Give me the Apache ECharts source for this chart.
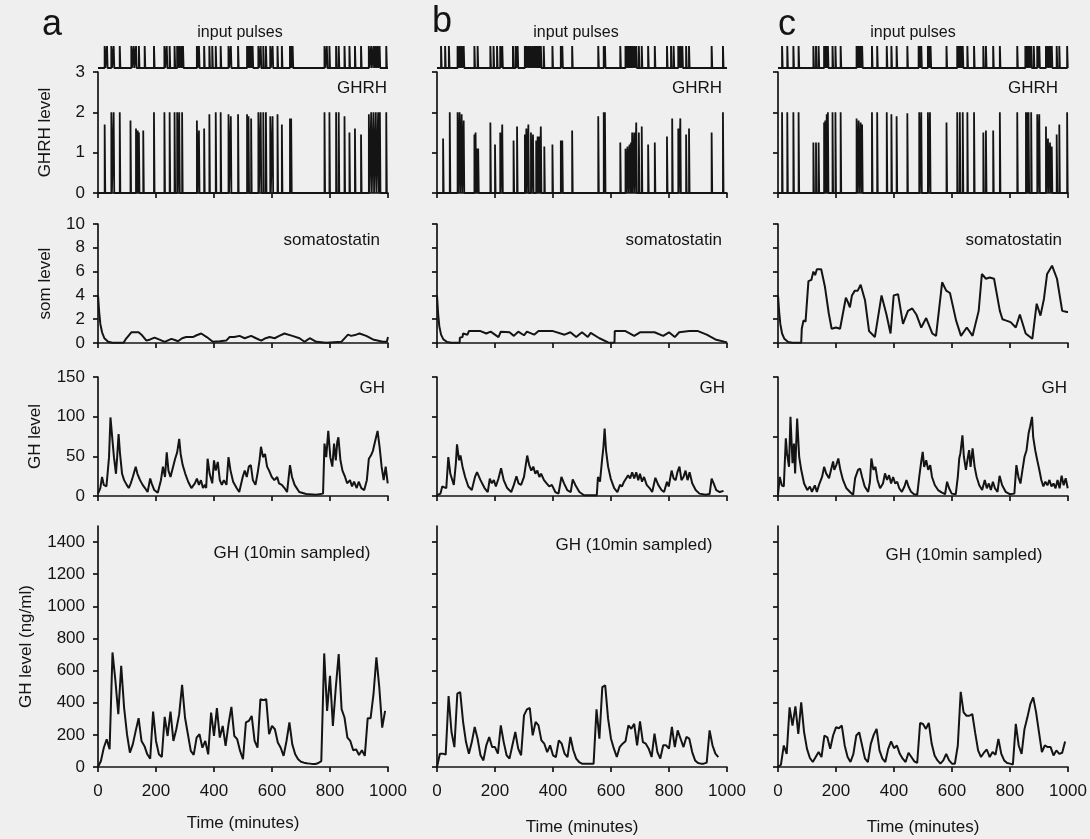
<!DOCTYPE html>
<html><head><meta charset="utf-8">
<script src="https://cdn.jsdelivr.net/npm/echarts@6/dist/echarts.min.js"></script>
<style>html,body{margin:0;padding:0;background:#efefef}#chart{width:1090px;height:839px}</style>
</head><body><div id="chart"></div><script>
// ---------- DATA ----------
const xTicks = [0, 200, 400, 600, 800, 1000];
const sampledTicks = [0, 200, 400, 600, 800, 1000, 1200, 1400];
const sampleStep = 10; // minutes between GH samples

// Column a
const pulseTimesA = [23,31,46,54,75,115,123,131,141,161,193,229,237,247,264,273,280,287,293,341,348,366,384,394,406,423,450,458,483,514,519,523,528,533,553,561,570,579,594,602,619,634,662,666,671,781,789,798,821,830,850,867,886,907,934,942,950,957,964,971,994];
const ghrhTimesA = [23,46,54,75,112,131,137,141,156,193,229,247,264,273,280,290,341,348,366,384,406,423,450,458,483,514,519,528,553,561,570,579,594,602,619,634,662,666,781,798,821,830,850,867,886,907,934,942,950,958,966,972,994];
const ghrhLevelsA = [1.7,2,2,2,1.8,1.6,1.55,1.5,1.55,2,2,2,2,2,2,2,1.8,1.55,1.6,1.95,2,2,1.95,1.9,1.95,1.95,1.9,1.85,2,2,2,2,1.9,1.9,1.95,1.7,1.85,1.85,2,2,2,2,1.9,1.5,1.6,1.45,1.95,2,2,2,2,2,2];
const somA = [[0,4],[4,2.6],[8,1.6],[14,0.9],[22,0.4],[35,0.1],[50,0.02],[88,0.02],[95,0.3],[105,0.6],[115,0.9],[140,0.9],[150,0.7],[167,0.2],[180,0.3],[195,0.45],[210,0.3],[230,0.1],[253,0.35],[265,0.25],[276,0.15],[290,0.4],[304,0.5],[327,0.5],[340,0.65],[356,0.8],[375,0.5],[396,0.1],[420,0.15],[442,0.2],[454,0.5],[470,0.5],[488,0.6],[506,0.4],[528,0.6],[545,0.4],[563,0.2],[578,0.4],[592,0.5],[609,0.4],[625,0.6],[643,0.8],[670,0.6],[695,0.4],[712,0.1],[730,0.4],[753,0.1],[787,0.02],[839,0.1],[862,0.7],[873,0.6],[890,0.7],[902,0.8],[925,0.6],[948,0.3],[982,0.1],[996,0.1],[1000,0.5]];
const ghA = [[0,3],[8,10],[14,24],[20,14],[29,12],[34,32],[38,49],[43,99],[49,74],[55,49],[62,28],[66,49],[71,78],[76,53],[83,28],[90,20],[99,14],[106,10],[113,16],[120,24],[130,37],[136,28],[145,20],[154,14],[162,10],[171,5],[180,22],[185,16],[194,7.5],[206,4],[217,20],[224,37],[231,24],[237,55],[243,32],[250,24],[259,37],[266,47],[273,55],[280,72],[285,53],[292,39],[301,28],[311,18],[322,10],[334,16],[341,22],[348,14],[355,20],[362,10],[369,14],[373,10],[378,47],[385,28],[394,16],[400,45],[406,32],[413,43],[420,20],[427,14],[434,20],[443,14],[450,49],[457,32],[466,18],[478,10],[487,5],[499,24],[506,32],[513,24],[520,37],[527,39],[534,20],[543,14],[550,28],[557,45],[562,62],[569,49],[576,53],[583,37],[590,32],[599,24],[608,20],[618,24],[624,16],[634,14],[643,10],[652,5],[662,39],[669,24],[678,14],[694,5],[718,2.5],[752,1.5],[776,3],[781,66],[787,49],[794,82],[801,49],[808,37],[814,66],[820,45],[825,68],[829,74],[836,45],[843,32],[852,24],[859,16],[869,20],[876,12],[883,18],[892,10],[899,18],[908,10],[918,7.5],[927,20],[934,47],[941,51],[948,57],[955,68],[964,82],[971,62],[978,37],[985,20],[992,37],[999,16]];
const ghSampledA = [0,37,120,173,110,713,537,329,630,370,204,89,141,225,304,162,131,79,52,345,162,79,62,312,193,345,162,235,329,512,308,204,100,75,183,204,120,162,79,339,193,366,183,256,131,266,374,193,173,100,48,277,287,318,162,120,422,416,422,204,256,235,152,120,69,162,277,141,79,48,33,27,23,21,19,19,25,37,707,349,568,256,495,703,360,308,183,162,104,110,75,104,69,304,304,453,682,495,245,349];

// Column b
const pulseTimesB = [14,28,41,71,78,85,92,129,140,184,195,207,218,225,262,271,278,303,308,315,322,329,336,342,347,352,358,368,398,427,432,466,556,575,579,632,650,655,660,664,669,673,680,687,696,706,728,751,793,807,816,832,839,846,859,869,947,986];
const ghrhTimesB = [21,44,71,78,85,92,129,133,138,142,184,200,218,225,264,276,303,308,315,324,331,342,347,352,358,370,398,427,432,466,556,575,579,632,650,657,664,669,673,680,687,696,706,728,751,793,811,832,839,859,869,947,986];
const ghrhLevelsB = [1.35,2,2,2,1.95,1.8,1.45,1.5,1.1,1.1,1.75,1.2,1.5,1.7,1.3,1.65,1.45,1.6,1.7,1.5,1.45,1.3,1.4,1.4,1.65,1.15,1.2,1.3,1.3,1.55,1.9,2,2,1.25,1.1,1.15,1.2,1.25,1.5,1.5,1.75,1.5,1.65,1.2,1.25,1.4,1.85,1.6,1.85,1.45,1.6,1.5,2];
const somB = [[0,4],[4,2.4],[8,1.4],[14,0.7],[22,0.3],[35,0.08],[50,0.02],[78,0.02],[79,0.45],[88,0.5],[90,0.8],[105,0.7],[110,1.0],[150,1.0],[170,0.8],[185,0.95],[212,0.5],[220,0.95],[250,0.9],[265,0.6],[280,0.95],[300,0.65],[310,0.95],[335,0.7],[350,1.0],[400,1.0],[440,0.7],[460,0.9],[480,0.5],[500,0.9],[520,0.5],[530,0.85],[560,0.4],[590,0.05],[605,0.02],[612,0.05],[613,1.0],[650,1.0],[680,0.6],[700,0.9],[750,0.9],[780,0.6],[800,0.9],[820,0.5],[835,0.9],[870,1.0],[900,1.0],[930,0.7],[960,0.3],[1000,0.05]];
const ghB = [[0,1],[12,3],[18,12],[32,10],[39,49],[46,28],[58,14],[65,41],[69,65],[76,45],[81,51],[88,37],[97,24],[108,12],[120,7.5],[131,24],[138,30],[150,20],[164,10],[175,5],[182,22],[189,16],[196,20],[203,12],[212,22],[221,35],[230,20],[242,10],[256,5],[265,14],[274,25],[281,16],[290,14],[300,24],[311,51],[318,39],[325,32],[332,37],[339,28],[346,32],[353,24],[359,28],[369,20],[378,16],[387,12],[396,14],[408,5],[419,3],[429,24],[438,16],[449,7.5],[461,5],[468,21],[477,14],[491,5],[507,1],[530,1],[551,1],[555,24],[562,18],[569,45],[574,62],[578,85],[583,57],[590,37],[599,22],[611,10],[622,5],[631,14],[638,12],[645,18],[652,22],[659,26],[666,22],[673,30],[680,22],[687,30],[694,20],[700,28],[707,18],[714,24],[723,14],[733,10],[742,5],[753,23],[763,14],[774,7.5],[783,5],[793,18],[799,12],[809,32],[816,22],[823,20],[829,30],[836,37],[843,20],[850,24],[857,32],[864,20],[871,30],[880,16],[892,7.5],[905,3],[926,1.5],[940,2.5],[947,22],[954,16],[963,7.5],[975,5],[988,6.5]];
const ghSampledB = [0,83,83,77,441,218,124,456,466,280,155,83,155,249,176,73,41,135,187,124,124,83,259,155,73,52,135,218,114,73,321,359,367,197,280,259,166,145,93,135,73,62,166,145,83,62,187,104,52,31,21,21,21,21,21,359,176,497,508,301,176,114,62,124,145,160,259,238,269,135,284,155,145,114,62,207,93,52,135,135,114,249,124,228,176,124,187,176,93,41,25,21,21,27,228,135,83,62];

// Column c
const pulseTimesC = [14,32,53,71,122,131,140,159,163,168,172,188,198,216,271,276,280,285,290,324,342,375,391,409,446,485,489,494,517,522,526,581,618,623,627,632,637,653,676,708,717,742,765,825,853,857,862,866,873,882,894,901,924,931,938,944,961,970,997];
const ghrhTimesC = [14,32,53,71,122,131,140,159,163,168,172,188,198,216,271,278,285,290,324,342,375,391,409,446,487,494,517,524,581,618,627,637,653,676,708,717,742,765,825,855,859,864,873,894,901,924,931,938,944,961,970,997];
const ghrhLevelsC = [2,2,2,2,1.25,1.25,1.25,1.75,1.8,1.95,2,2,2,2,1.85,1.8,1.75,1.7,2,2,2,1.95,1.9,1.98,2,2,2,2,1.75,2,2,2,2,2,1.5,1.55,1.55,2,2,2,2,2,2,1.95,1.95,1.65,1.35,1.25,1.15,1.45,1.7,2];
const somC = [[0,4],[4,2.6],[8,1.6],[14,0.8],[22,0.35],[35,0.08],[50,0.02],[80,0.02],[82,1.2],[88,1.9],[95,1.8],[100,3.5],[105,5.2],[115,5.3],[122,6.0],[128,5.7],[134,6.2],[149,6.2],[162,4.7],[175,2.5],[185,1.2],[200,1.3],[214,1.2],[234,3.8],[240,3.5],[248,3.0],[255,4.0],[265,4.4],[275,4.4],[285,4.9],[300,3.6],[314,1.0],[334,0.5],[357,4.0],[374,2.4],[388,0.8],[399,4.0],[414,4.1],[431,1.6],[448,2.7],[463,2.9],[477,2.4],[494,1.3],[511,2.1],[532,0.8],[545,0.6],[566,5.1],[580,4.4],[593,4.2],[614,1.9],[631,0.6],[651,1.3],[671,0.6],[692,2.7],[703,5.8],[717,5.4],[730,5.5],[745,5.4],[765,2.7],[774,2.0],[785,1.9],[802,1.75],[820,1.3],[834,2.4],[854,0.8],[877,0.35],[892,3.3],[905,2.3],[917,3.7],[928,5.8],[945,6.5],[962,5.4],[980,2.7],[997,2.6],[1000,2.6]];
const ghC = [[0,2],[6,32],[13,18],[20,16],[27,97],[31,72],[38,49],[43,133],[50,55],[55,88],[59,38],[66,130],[73,66],[80,44],[90,21],[101,10],[110,16],[117,7],[127,18],[134,7],[143,21],[152,32],[159,49],[166,38],[176,30],[183,44],[190,58],[194,44],[201,52],[208,63],[215,44],[224,27],[236,13],[250,6],[259,2],[266,30],[276,44],[283,46],[290,32],[299,16],[311,7],[317,24],[322,63],[329,44],[336,49],[343,27],[352,13],[362,21],[369,38],[376,27],[383,35],[390,21],[397,32],[404,21],[411,24],[418,13],[427,7],[436,16],[443,27],[450,16],[459,7],[469,3],[480,2],[487,32],[494,58],[499,74],[504,49],[511,60],[518,44],[525,52],[531,32],[541,18],[552,10],[564,6],[576,3],[583,24],[590,13],[599,4],[613,3],[620,32],[625,63],[629,72],[636,102],[641,66],[648,44],[655,66],[659,77],[664,49],[671,80],[678,49],[685,32],[694,18],[704,10],[713,27],[720,13],[727,21],[734,10],[741,24],[748,13],[757,7],[764,34],[773,18],[785,7],[799,3],[815,4],[822,52],[829,32],[836,21],[843,44],[850,66],[857,77],[864,105],[869,116],[876,133],[880,99],[887,77],[894,60],[901,44],[908,27],[915,16],[922,24],[929,18],[936,27],[943,16],[950,21],[957,13],[964,27],[971,13],[978,34],[985,18],[992,30],[999,13]];
const ghSampledC = [0,14,134,82,371,258,377,206,402,216,113,56,31,62,93,62,196,185,113,196,247,241,258,134,62,31,82,196,216,134,52,31,144,200,237,103,52,31,113,159,117,134,82,52,31,89,62,35,25,274,268,237,274,144,72,41,21,41,82,41,21,21,134,468,340,319,319,330,212,103,62,89,109,62,93,76,175,82,41,25,21,16,268,134,82,237,309,391,433,340,216,93,134,124,124,72,103,82,89,159];

// ---------- LAYOUT / STYLE ----------
const FONT = '"Liberation Sans", Arial, Helvetica, sans-serif';
const INK = '#141414';
const W = 290;
const rows = [
  {top: 46, height: 22},
  {top: 72, height: 121},
  {top: 224, height: 119},
  {top: 377, height: 119},
  {top: 526, height: 241}
];
const cols = [
  {left: 98, letter: 'a', letterPos: [52, 25], pulsesX: 240, ghrhR: 387, somR: 380, ghR: 385, sampX: 292, sampY: 553, timeGap: 48,
   pulses: pulseTimesA, ghrhT: ghrhTimesA, ghrhV: ghrhLevelsA, som: somA, gh: ghA, ghMax: 150, ghInt: 50, samp: ghSampledA, labels: true},
  {left: 437, letter: 'b', letterPos: [442, 22], pulsesX: 576, ghrhR: 722, somR: 722, ghR: 725, sampX: 634, sampY: 545, timeGap: 52,
   pulses: pulseTimesB, ghrhT: ghrhTimesB, ghrhV: ghrhLevelsB, som: somB, gh: ghB, ghMax: 150, ghInt: 50, samp: ghSampledB, labels: false},
  {left: 778, letter: 'c', letterPos: [787, 25], pulsesX: 913, ghrhR: 1058, somR: 1062, ghR: 1067, sampX: 964, sampY: 555, timeGap: 52,
   pulses: pulseTimesC, ghrhT: ghrhTimesC, ghrhV: ghrhLevelsC, som: somC, gh: ghC, ghMax: 200, ghInt: 100, samp: ghSampledC, labels: false}
];

function spikes(times, levels) {
  const d = [[0, 0]];
  times.forEach((t, i) => {
    const v = levels ? levels[i] : 1;
    d.push([t, 0], [t, v], [t + 2, v], [t + 2, 0]);
  });
  d.push([1000, 0]);
  return d;
}

const axisLineStyle = {color: INK, width: 1.7};
const plain = v => String(v);
const grid = [], xAxis = [], yAxis = [], series = [], graphic = [];

function text(t, x, y, align, size) {
  graphic.push({type: 'text', x: x, y: y, silent: true,
    style: {text: t, fill: INK, font: size + 'px ' + FONT, textAlign: align, textVerticalAlign: 'middle', align: align, verticalAlign: 'middle'}});
}

cols.forEach((c, ci) => {
  const yDefs = [
    {min: 0, max: 1, show: false},
    {min: 0, max: 3, interval: 1, name: 'GHRH level', gap: 44},
    {min: 0, max: 10, interval: 2, name: 'som level', gap: 44},
    {min: 0, max: c.ghMax, interval: c.ghInt, name: 'GH level', gap: 54},
    {min: 0, max: 1500, interval: 200, name: 'GH level (ng/ml)', gap: 63, custom: sampledTicks}
  ];
  rows.forEach((r, ri) => {
    const gi = ci * 5 + ri;
    grid.push({left: c.left, width: W, top: r.top, height: r.height});
    xAxis.push({
      type: 'value', gridIndex: gi, min: 0, max: 1000, interval: 200,
      axisLine: {show: ri > 0, lineStyle: axisLineStyle},
      axisTick: {show: ri > 0, length: 5, lineStyle: axisLineStyle, customValues: xTicks},
      axisLabel: {show: ri === 4, color: INK, fontSize: 17, fontFamily: FONT, margin: 16, customValues: xTicks, formatter: plain},
      splitLine: {show: false},
      name: ri === 4 ? 'Time (minutes)' : '', nameLocation: 'middle', nameGap: c.timeGap,
      nameTextStyle: {color: INK, fontSize: 17, fontFamily: FONT}
    });
    const yd = yDefs[ri];
    const y = {
      type: 'value', gridIndex: gi, min: yd.min, max: yd.max,
      show: yd.show !== false,
      axisLine: {show: true, lineStyle: axisLineStyle},
      axisTick: {show: true, length: 5, lineStyle: axisLineStyle},
      axisLabel: {show: c.labels, color: INK, fontSize: 17, fontFamily: FONT, margin: 13, formatter: plain},
      splitLine: {show: false},
      name: c.labels && yd.name ? yd.name : '', nameLocation: 'middle', nameGap: yd.gap, nameRotate: 90,
      nameTextStyle: {color: INK, fontSize: 17, fontFamily: FONT}
    };
    if (yd.interval) y.interval = yd.interval;
    if (yd.custom) { y.axisTick.customValues = yd.custom; y.axisLabel.customValues = yd.custom; }
    yAxis.push(y);
  });
  const base = {type: 'line', showSymbol: false, symbol: 'none', silent: true, animation: false,
    lineStyle: {color: INK, width: 2}, clip: true};
  series.push(Object.assign({}, base, {xAxisIndex: ci*5, yAxisIndex: ci*5, data: spikes(c.pulses), lineStyle: {color: INK, width: 1.9}}));
  series.push(Object.assign({}, base, {xAxisIndex: ci*5+1, yAxisIndex: ci*5+1, data: spikes(c.ghrhT, c.ghrhV), lineStyle: {color: INK, width: 1.8}}));
  series.push(Object.assign({}, base, {xAxisIndex: ci*5+2, yAxisIndex: ci*5+2, data: c.som}));
  series.push(Object.assign({}, base, {xAxisIndex: ci*5+3, yAxisIndex: ci*5+3, data: c.gh}));
  series.push(Object.assign({}, base, {xAxisIndex: ci*5+4, yAxisIndex: ci*5+4, data: c.samp.map((v, i) => [i * sampleStep, v])}));

  text(c.letter, c.letterPos[0], c.letterPos[1], 'center', 36);
  text('input pulses', c.pulsesX, 33, 'center', 16);
  text('GHRH', c.ghrhR, 88, 'right', 17);
  text('somatostatin', c.somR, 240, 'right', 17);
  text('GH', c.ghR, 388, 'right', 17);
  text('GH (10min sampled)', c.sampX, c.sampY, 'center', 17);
});

const chart = echarts.init(document.getElementById('chart'), null, {renderer: 'canvas'});
chart.setOption({
  backgroundColor: '#efefef',
  animation: false,
  grid, xAxis, yAxis, series, graphic
});
</script></body></html>
